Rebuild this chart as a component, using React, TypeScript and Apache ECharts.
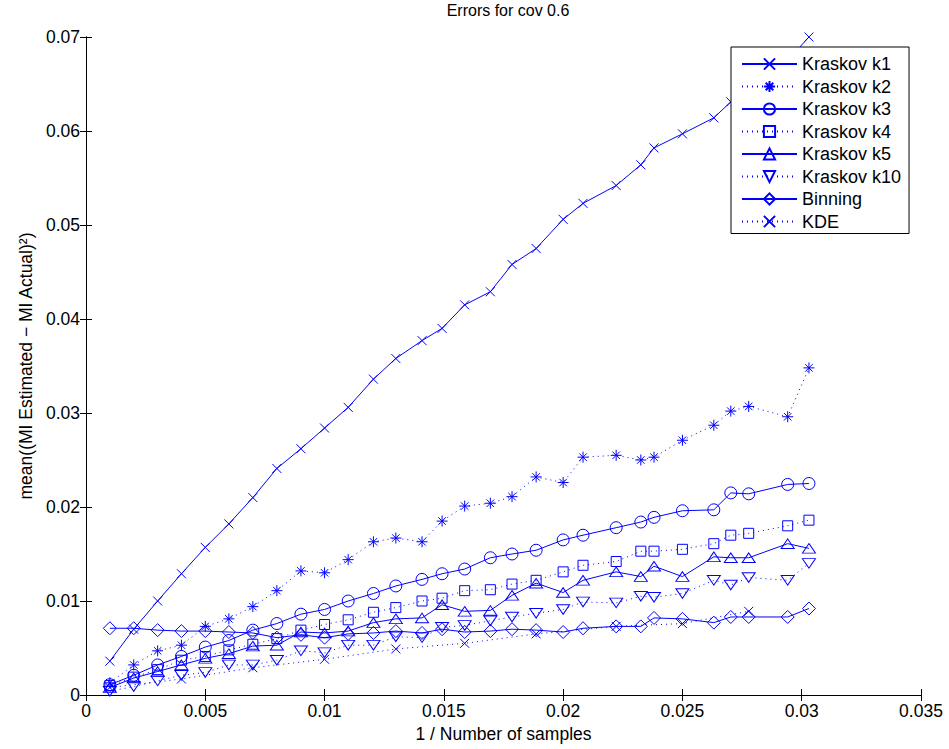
import React, { useEffect, useRef } from "react";
import * as echarts from "echarts";

// Number of samples per point (x = 1 / N)
const sampleSizes = [1000, 500, 333, 250, 200, 167, 143, 125, 111, 100, 91, 83, 77, 71, 67, 63, 59, 56, 53, 50, 48, 45, 43, 42, 40, 38, 37, 36, 34, 33];
const kdeSampleSizes = [1000, 250, 143, 100, 77, 63, 53, 45, 40, 36];

const kraskovK1 = [0.0036, 0.0070, 0.0100, 0.0129, 0.0157, 0.0182, 0.0210, 0.0241, 0.0262, 0.0284, 0.0306, 0.0336, 0.0358, 0.0377, 0.0390, 0.0415, 0.0429, 0.0458, 0.0475, 0.0506, 0.0523, 0.0542, 0.0564, 0.0582, 0.0597, 0.0614, 0.0631, 0.0650, 0.0675, 0.0700];
const kraskovK2 = [0.0013, 0.0032, 0.0047, 0.0053, 0.0073, 0.0081, 0.0094, 0.0111, 0.0132, 0.0130, 0.0144, 0.0163, 0.0167, 0.0163, 0.0185, 0.0201, 0.0204, 0.0211, 0.0232, 0.0226, 0.0253, 0.0255, 0.0250, 0.0253, 0.0271, 0.0287, 0.0302, 0.0307, 0.0296, 0.0348];
const kraskovK3 = [0.0011, 0.0021, 0.0032, 0.0041, 0.0051, 0.0058, 0.0069, 0.0076, 0.0086, 0.0091, 0.0100, 0.0108, 0.0116, 0.0123, 0.0129, 0.0134, 0.0146, 0.0150, 0.0154, 0.0165, 0.0170, 0.0178, 0.0184, 0.0189, 0.0196, 0.0197, 0.0215, 0.0214, 0.0224, 0.0225];
const kraskovK4 = [0.0010, 0.0019, 0.0027, 0.0037, 0.0041, 0.0048, 0.0054, 0.0060, 0.0069, 0.0075, 0.0080, 0.0088, 0.0093, 0.0100, 0.0103, 0.0111, 0.0112, 0.0118, 0.0122, 0.0131, 0.0138, 0.0142, 0.0153, 0.0153, 0.0155, 0.0161, 0.0170, 0.0172, 0.0180, 0.0186];
const kraskovK5 = [0.0008, 0.0018, 0.0025, 0.0032, 0.0039, 0.0044, 0.0052, 0.0053, 0.0067, 0.0066, 0.0068, 0.0077, 0.0081, 0.0082, 0.0096, 0.0089, 0.0090, 0.0106, 0.0119, 0.0109, 0.0122, 0.0131, 0.0126, 0.0137, 0.0126, 0.0147, 0.0146, 0.0146, 0.0161, 0.0156];
const kraskovK10 = [0.0004, 0.0009, 0.0015, 0.0021, 0.0024, 0.0032, 0.0032, 0.0037, 0.0047, 0.0045, 0.0053, 0.0053, 0.0062, 0.0061, 0.0072, 0.0074, 0.0079, 0.0083, 0.0087, 0.0091, 0.0099, 0.0098, 0.0105, 0.0104, 0.0108, 0.0122, 0.0117, 0.0125, 0.0122, 0.0140];
const binning = [0.0071, 0.0071, 0.0069, 0.0068, 0.0068, 0.0067, 0.0066, 0.0061, 0.0064, 0.0061, 0.0065, 0.0066, 0.0068, 0.0066, 0.0070, 0.0067, 0.0068, 0.0070, 0.0069, 0.0067, 0.0071, 0.0073, 0.0073, 0.0082, 0.0081, 0.0077, 0.0083, 0.0083, 0.0083, 0.0092];
const kde = [0.0008, 0.0017, 0.0029, 0.0038, 0.0049, 0.0055, 0.0065, 0.0073, 0.0076, 0.0089];

const xTicks = { min: 0, max: 0.035, interval: 0.005 };
const yTicks = { min: 0, max: 0.07, interval: 0.01 };

const BLUE = "#0000ff";
const FONT = "Liberation Sans, Arial, Helvetica, sans-serif";

const SYM_X = "path://M0,0L10,10M10,0L0,10";
const SYM_STAR = "path://M5,0L5,10M0,5L10,5M1.6,1.6L8.4,8.4M8.4,1.6L1.6,8.4";
const SYM_CIRCLE = "path://M5,0A5,5 0 1,1 5,10A5,5 0 1,1 5,0Z";
const SYM_SQUARE = "path://M0,0L10,0L10,10L0,10Z";
const SYM_TRI_UP = "path://M5,0L10,8.7L0,8.7Z";
const SYM_TRI_DOWN = "path://M0,0L10,0L5,8.7Z";
const SYM_DIAMOND = "path://M5,0L10,5L5,10L0,5Z";

function pairs(ns: number[], ys: number[]) {
  return ns.map((n, i) => [1 / n, ys[i]]);
}

function mkSeries(name: string, ns: number[], ys: number[], symbol: string, size: any, dotted: boolean) {
  return {
    name,
    type: "line",
    data: pairs(ns, ys),
    symbol,
    symbolSize: size,
    symbolKeepAspect: true,
    showSymbol: true,
    lineStyle: { color: BLUE, width: 1, type: dotted ? [1, 4] : "solid" },
    itemStyle: { color: "none", borderColor: BLUE, borderWidth: 1 },
    emphasis: { disabled: true },
    z: 2,
  };
}

export default function App() {
  const ref = useRef<HTMLDivElement>(null);
  useEffect(() => {
    if (!ref.current) return;
    const chart = echarts.init(ref.current, null, { renderer: "svg" });
    const axisCommon = {
      type: "value",
      axisLine: { show: true, lineStyle: { color: "#000", width: 1 } },
      axisTick: { show: true, inside: true, length: 6, lineStyle: { color: "#000" } },
      splitLine: { show: false },
    };
    chart.setOption({
      animation: false,
      backgroundColor: "#fff",
      title: {
        text: "Errors for cov 0.6",
        left: 503,
        textAlign: "center",
        top: -3,
        textStyle: { fontFamily: FONT, fontSize: 16, fontWeight: "normal", color: "#000" },
      },
      grid: { left: 86, right: 28, top: 37, bottom: 54, containLabel: false },
      legend: {
        orient: "vertical",
        left: 731,
        top: 47,
        padding: [8, 8, 3, 10],
        itemWidth: 55,
        itemHeight: 14,
        itemGap: 4.5,
        backgroundColor: "#fff",
        borderColor: "#000",
        borderWidth: 1,
        textStyle: { fontFamily: FONT, fontSize: 18, color: "#000" },
        data: ["Kraskov k1", "Kraskov k2", "Kraskov k3", "Kraskov k4", "Kraskov k5", "Kraskov k10", "Binning", "KDE"],
      },
      xAxis: [
        {
          ...axisCommon,
          position: "bottom",
          ...xTicks,
          name: "1 / Number of samples",
          nameLocation: "middle",
          nameGap: 28,
          nameTextStyle: { fontFamily: FONT, fontSize: 17.5, color: "#000" },
          axisLabel: { fontFamily: FONT, fontSize: 17.5, color: "#000", margin: 7 },
        },
        {
          ...axisCommon,
          position: "top",
          ...xTicks,
          axisLabel: { show: false },
        },
      ],
      yAxis: [
        {
          ...axisCommon,
          position: "left",
          ...yTicks,
          name: "mean((MI Estimated − MI Actual)²)",
          nameLocation: "middle",
          nameGap: 46,
          nameTextStyle: { fontFamily: FONT, fontSize: 17.5, color: "#000" },
          axisLabel: { fontFamily: FONT, fontSize: 17.5, color: "#000", margin: 6 },
        },
        {
          ...axisCommon,
          position: "right",
          ...yTicks,
          axisLabel: { show: false },
        },
      ],
      series: [
        mkSeries("Kraskov k1", sampleSizes, kraskovK1, SYM_X, 9, false),
        mkSeries("Kraskov k2", sampleSizes, kraskovK2, SYM_STAR, 11, true),
        mkSeries("Kraskov k3", sampleSizes, kraskovK3, SYM_CIRCLE, 12, false),
        mkSeries("Kraskov k4", sampleSizes, kraskovK4, SYM_SQUARE, 10, true),
        mkSeries("Kraskov k5", sampleSizes, kraskovK5, SYM_TRI_UP, [13, 11], false),
        mkSeries("Kraskov k10", sampleSizes, kraskovK10, SYM_TRI_DOWN, [13, 11], true),
        mkSeries("Binning", sampleSizes, binning, SYM_DIAMOND, 13, false),
        mkSeries("KDE", kdeSampleSizes, kde, SYM_X, 9, true),
      ],
    });
    return () => chart.dispose();
  }, []);
  return <div ref={ref} style={{ width: 949, height: 749, position: "absolute", left: 0, top: 0 }} />;
}
